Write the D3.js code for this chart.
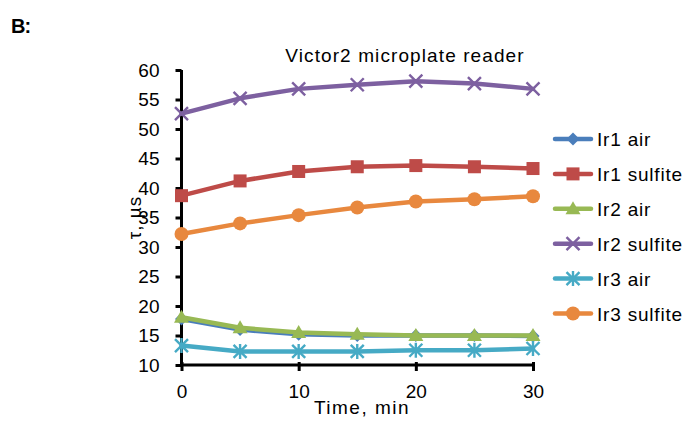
<!DOCTYPE html>
<html>
<head>
<meta charset="utf-8">
<script src="https://cdn.jsdelivr.net/npm/d3@7"></script>
<style>
  body { margin: 0; background: #fff; }
  text { font-family: "Liberation Sans", Arial, sans-serif; }
</style>
</head>
<body>
<svg id="chart" width="690" height="421"></svg>
<script>
// Lifetime (τ, µs) vs time for three Ir complexes in air and sulfite
const times = [0, 5, 10, 15, 20, 25, 30];
const ir1Air     = [17.8, 16.0, 15.2, 15.0, 15.0, 15.0, 14.9];
const ir1Sulfite = [38.7, 41.2, 42.8, 43.6, 43.8, 43.6, 43.3];
const ir2Air     = [18.1, 16.3, 15.5, 15.2, 15.0, 15.0, 15.0];
const ir2Sulfite = [52.6, 55.2, 56.8, 57.5, 58.1, 57.7, 56.8];
const ir3Air     = [13.3, 12.3, 12.3, 12.3, 12.5, 12.5, 12.8];
const ir3Sulfite = [32.2, 34.0, 35.4, 36.7, 37.7, 38.1, 38.6];
const seriesNames = ["Ir1 air", "Ir1 sulfite", "Ir2 air", "Ir2 sulfite", "Ir3 air", "Ir3 sulfite"];
const xTicks = [0, 10, 20, 30];
const yTicks = [10, 15, 20, 25, 30, 35, 40, 45, 50, 55, 60];

const colors = ["#4A7EBB", "#BE4B48", "#98B954", "#7D60A0", "#46AAC5", "#E8883E"];
const markers = ["diamond", "square", "triangle", "cross", "star", "circle"];
const seriesValues = [ir1Air, ir1Sulfite, ir2Air, ir2Sulfite, ir3Air, ir3Sulfite];
const series = seriesNames.map((name, i) => ({
  name, color: colors[i], marker: markers[i],
  points: times.map((t, j) => ({ t, v: seriesValues[i][j] }))
}));

const svg = d3.select("#chart");
const x = d3.scaleLinear().domain([0, 30]).range([181.5, 533]);
const y = d3.scaleLinear().domain([10, 60]).range([365, 70]);
const FONT = 19;

// Panel label
svg.append("text").attr("x", 11).attr("y", 33)
  .attr("font-size", 20).attr("font-weight", "bold").attr("letter-spacing", "-1px").text("B:");

// Title
svg.append("text").attr("x", 405).attr("y", 62).attr("text-anchor", "middle")
  .attr("font-size", FONT).attr("letter-spacing", "1.1px")
  .text("Victor2 microplate reader");

// Axes
const yAxis = svg.append("g").attr("transform", `translate(${x(0)},0)`)
  .call(d3.axisLeft(y).tickValues(yTicks).tickSize(6).tickPadding(16));
const xAxis = svg.append("g").attr("transform", `translate(0,${y(10)})`)
  .call(d3.axisBottom(x).tickValues(xTicks).tickSize(6).tickPadding(14));
[yAxis, xAxis].forEach(g => {
  g.select(".domain").attr("stroke", "#000").attr("stroke-width", 3);
  g.selectAll(".tick line").attr("stroke", "#000").attr("stroke-width", 3);
  g.selectAll(".tick text").attr("font-size", FONT).attr("fill", "#000")
    .attr("font-family", "Liberation Sans, Arial, sans-serif");
});
xAxis.selectAll(".tick line").attr("y1", -3);
yAxis.select(".domain").attr("d", `M0,${y(10)}V${y(60)}`);
xAxis.select(".domain").attr("d", `M${x(0)},0H${x(30)}`);

// Axis titles
svg.append("text").attr("transform", `translate(141,${(y(10) + y(60)) / 2}) rotate(-90)`)
  .attr("text-anchor", "middle").attr("font-size", FONT).attr("letter-spacing", "1px")
  .text("τ, µs");
svg.append("text").attr("x", 362).attr("y", 414).attr("text-anchor", "middle")
  .attr("font-size", FONT).attr("letter-spacing", "1.5px").text("Time, min");

// Marker shapes
function drawMarker(g, type, color, cx, cy) {
  if (type === "diamond") {
    g.append("path").attr("d", `M${cx},${cy - 6.5}L${cx + 6.5},${cy}L${cx},${cy + 6.5}L${cx - 6.5},${cy}Z`).attr("fill", color);
  } else if (type === "square") {
    g.append("rect").attr("x", cx - 6.5).attr("y", cy - 6.5).attr("width", 13).attr("height", 13).attr("fill", color);
  } else if (type === "triangle") {
    g.append("path").attr("d", `M${cx},${cy - 7.5}L${cx + 7.5},${cy + 5.5}L${cx - 7.5},${cy + 5.5}Z`).attr("fill", color);
  } else if (type === "cross") {
    g.append("path").attr("d", `M${cx - 6.5},${cy - 6.5}L${cx + 6.5},${cy + 6.5}M${cx - 6.5},${cy + 6.5}L${cx + 6.5},${cy - 6.5}`)
      .attr("stroke", color).attr("stroke-width", 2.4);
  } else if (type === "star") {
    g.append("path").attr("d", `M${cx - 6.5},${cy - 6.5}L${cx + 6.5},${cy + 6.5}M${cx - 6.5},${cy + 6.5}L${cx + 6.5},${cy - 6.5}M${cx},${cy - 7.5}V${cy + 7.5}`)
      .attr("stroke", color).attr("stroke-width", 2.4);
  } else if (type === "circle") {
    g.append("circle").attr("cx", cx).attr("cy", cy).attr("r", 7).attr("fill", color);
  }
}

const line = d3.line().x(d => x(d.t)).y(d => y(d.v));
const plot = svg.append("g");
series.forEach(s => {
  const g = plot.append("g");
  g.append("path").datum(s.points).attr("d", line)
    .attr("fill", "none").attr("stroke", s.color).attr("stroke-width", 4.5)
    .attr("stroke-linejoin", "round").attr("stroke-linecap", "round");
  s.points.forEach(p => drawMarker(g, s.marker, s.color, x(p.t), y(p.v)));
});

// Legend
const legend = svg.append("g");
series.forEach((s, i) => {
  const ly = 139 + i * 34.9;
  const g = legend.append("g");
  g.append("line").attr("x1", 555).attr("x2", 591).attr("y1", ly).attr("y2", ly)
    .attr("stroke", s.color).attr("stroke-width", 4.5).attr("stroke-linecap", "round");
  drawMarker(g, s.marker, s.color, 573, ly);
  g.append("text").attr("x", 597).attr("y", ly + 7).attr("font-size", FONT)
    .attr("letter-spacing", "0.8px").text(s.name);
});
</script>
</body>
</html>
